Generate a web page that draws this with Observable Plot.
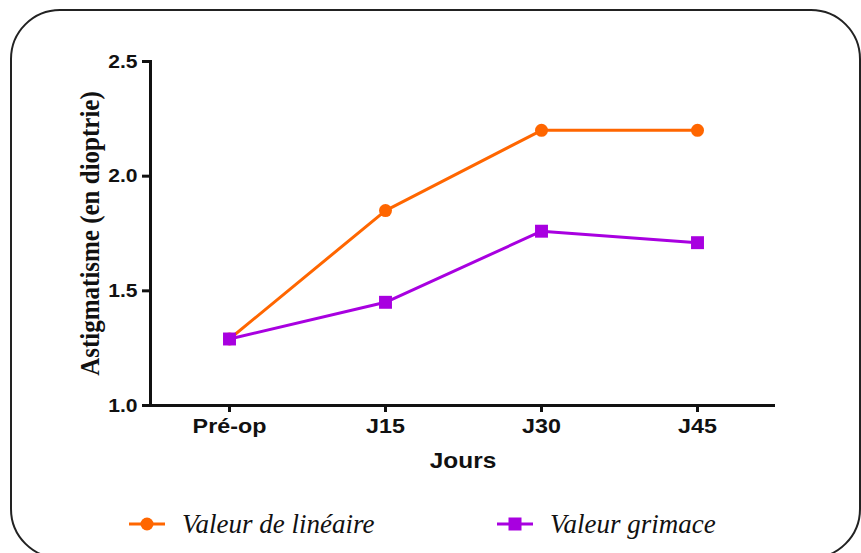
<!DOCTYPE html>
<html><head><meta charset="utf-8">
<script src="https://cdn.jsdelivr.net/npm/d3@7"></script>
<script src="https://cdn.jsdelivr.net/npm/@observablehq/plot@0.6"></script>
<style>
html,body{margin:0;padding:0;background:#fff;width:861px;height:553px;overflow:hidden;}
#frame{position:absolute;left:10px;top:9px;width:851px;height:550px;border:2px solid #222;border-radius:50px;box-sizing:border-box;}
#chart{position:absolute;left:0;top:0;}
#legend{position:absolute;left:0;top:504px;width:861px;height:40px;font-family:"Liberation Serif","Times New Roman",serif;font-style:italic;font-size:27px;color:#111;}
.item{position:absolute;top:0;display:flex;align-items:center;height:40px;}
.item span{display:inline-block;margin-left:17px;white-space:nowrap;}
</style></head><body>
<div id="frame"></div>
<div id="chart"></div>
<div id="legend"></div>
<script>
const days = ["Pré-op", "J15", "J30", "J45"];
const lineaire = [1.29, 1.85, 2.20, 2.20];
const grimace = [1.29, 1.45, 1.76, 1.71];
const yTicks = [1.0, 1.5, 2.0, 2.5];
const seriesNames = ["Valeur de linéaire", "Valeur grimace"];
const colors = ["#ff6600", "#a800e0"];
const xTitle = "Jours";
const yTitle = "Astigmatisme (en dioptrie)";

const lin = days.map((d, i) => ({day: d, v: lineaire[i]}));
const gri = days.map((d, i) => ({day: d, v: grimace[i]}));

const plot = Plot.plot({
  width: 861, height: 480,
  marginLeft: 150, marginRight: 86, marginTop: 61, marginBottom: 75,
  style: {fontFamily: "'Liberation Sans', Arial, sans-serif", fontWeight: "bold", fontSize: "20px", color: "#111", background: "transparent", overflow: "visible"},
  x: {type: "point", domain: days, padding: 0.5},
  y: {domain: [1, 2.5]},
  marks: [
    Plot.axisX({tickSize: 7, tickPadding: 6, strokeWidth: 3, label: null, fontSize: 21}),
    Plot.axisY({ticks: yTicks, tickFormat: d => d.toFixed(1), tickSize: 8, tickPadding: 5, strokeWidth: 3, label: null, fontSize: 19}),
    Plot.ruleY([1], {strokeWidth: 3, stroke: "#111"}),
    Plot.frame({anchor: "left", strokeWidth: 3, stroke: "#111"}),
    Plot.line(lin, {x: "day", y: "v", stroke: colors[0], strokeWidth: 3}),
    Plot.dot(lin, {x: "day", y: "v", fill: colors[0], r: 6.5}),
    Plot.line(gri, {x: "day", y: "v", stroke: colors[1], strokeWidth: 3}),
    Plot.dot(gri, {x: "day", y: "v", fill: colors[1], symbol: "square", r: 7.3}),
    Plot.text([xTitle], {frameAnchor: "bottom", dy: 55, lineAnchor: "middle", textAnchor: "middle", fontSize: 22, fontWeight: "bold"}),
    Plot.text([yTitle], {frameAnchor: "left", dx: -60, rotate: -90, textAnchor: "middle", lineAnchor: "middle", fontFamily: "'Liberation Serif', 'Times New Roman', serif", fontSize: 25, fontWeight: "bold"})
  ]
});
document.getElementById("chart").appendChild(plot);

// widen glyphs to match reference's stretched lettering
plot.querySelectorAll("text").forEach(t => {
  const tr = t.getAttribute("transform");
  if (!tr) return;
  const isTitle = t.textContent === yTitle;
  t.setAttribute("transform", tr + (isTitle ? " scale(1,1.1)" : " scale(1.11,1)"));
});

// legend
const legend = document.getElementById("legend");
const legendPos = [129, 497];
seriesNames.forEach((name, i) => {
  const item = document.createElement("div");
  item.className = "item";
  item.style.left = legendPos[i] + "px";
  const sym = i === 0
    ? `<circle cx="18" cy="10" r="6.5" fill="${colors[i]}"/>`
    : `<rect x="11.5" y="3.5" width="13" height="13" fill="${colors[i]}"/>`;
  item.innerHTML = `<svg width="36" height="20"><line x1="0" x2="36" y1="10" y2="10" stroke="${colors[i]}" stroke-width="3"/>${sym}</svg><span>${name}</span>`;
  legend.appendChild(item);
});
</script>
</body></html>
